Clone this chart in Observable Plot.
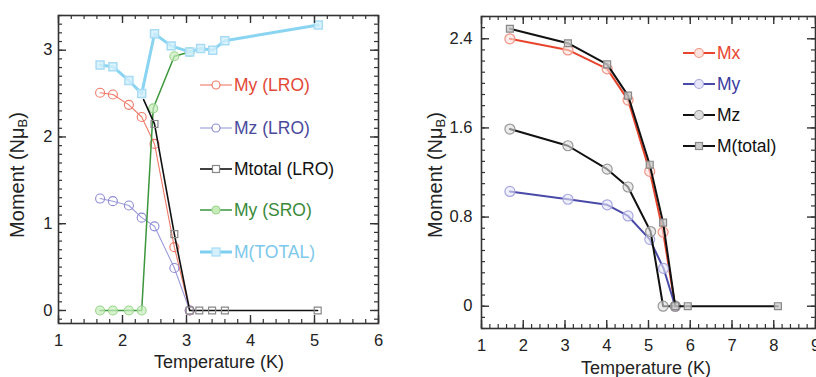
<!DOCTYPE html>
<html>
<head>
<meta charset="utf-8">
<script src="https://cdn.jsdelivr.net/npm/d3@7"></script>
<script src="https://cdn.jsdelivr.net/npm/@observablehq/plot@0.6"></script>
<style>
  html, body { margin: 0; padding: 0; background: #fff; }
  #wrap { display: flex; width: 816px; height: 377px; overflow: hidden; }
  svg { font-family: "Liberation Sans", Arial, Helvetica, sans-serif; }
</style>
</head>
<body>
<div id="wrap"></div>
<script>
// ---------- Left panel data ----------
const myLRO_T = [1.65, 1.85, 2.10, 2.30, 2.50, 2.81, 3.05];
const myLRO_M = [2.51, 2.49, 2.37, 2.23, 1.92, 0.73, 0];
const mzLRO_T = [1.65, 1.85, 2.10, 2.30, 2.50, 2.81, 3.05];
const mzLRO_M = [1.29, 1.26, 1.21, 1.07, 0.97, 0.49, 0];
const mtotLRO_T = [2.33, 2.50, 2.81, 3.05, 3.20, 3.40, 3.60, 5.05];
const mtotLRO_M = [2.43, 2.15, 0.88, 0, 0, 0, 0, 0];
const mySRO_T = [1.65, 1.85, 2.10, 2.30, 2.48, 2.81, 3.05];
const mySRO_M = [0, 0, 0, 0, 2.33, 2.93, 2.98];
const mTOT_T = [1.65, 1.85, 2.10, 2.30, 2.50, 2.76, 3.05, 3.22, 3.41, 3.60, 5.06];
const mTOT_M = [2.83, 2.81, 2.65, 2.50, 3.19, 3.05, 2.98, 3.02, 3.00, 3.11, 3.29];
const leftLegend = ["My (LRO)", "Mz (LRO)", "Mtotal (LRO)", "My (SRO)", "M(TOTAL)"];
const xTicksL = [1, 2, 3, 4, 5, 6];
const yTicksL = [0, 1, 2, 3];

// ---------- Right panel data ----------
const mx_T = [1.68, 3.07, 4.01, 4.51, 5.03, 5.35, 5.64];
const mx_M = [2.40, 2.30, 2.13, 1.85, 1.21, 0.665, 0];
const my_T = [1.68, 3.07, 4.01, 4.51, 5.03, 5.36, 5.64];
const my_M = [1.03, 0.96, 0.91, 0.81, 0.60, 0.34, 0];
const mz_T = [1.68, 3.07, 4.01, 4.51, 5.05, 5.35, 5.64];
const mz_M = [1.59, 1.44, 1.23, 1.07, 0.67, 0, 0];
const mt_T = [1.68, 3.07, 4.01, 4.51, 5.03, 5.35, 5.64, 5.94, 8.10];
const mt_M = [2.49, 2.36, 2.17, 1.89, 1.27, 0.75, 0, 0, 0];
const rightLegend = ["Mx", "My", "Mz", "M(total)"];
const xTicksR = [1, 2, 3, 4, 5, 6, 7, 8, 9];
const yTicksR = [0, 0.8, 1.6, 2.4];

const zip = (T, M) => T.map((t, i) => ({t, m: M[i]}));
const range = (a, b, s) => d3.range(Math.round((b - a) / s) + 1).map(i => +(a + i * s).toFixed(4));

function frameTicks(xMinor, xMajor, yMinor, yMajor, pw, ph, minorLen, majorLen) {
  const c = "#333";
  return [
    Plot.tickX(xMinor, {x: d => d, stroke: c, strokeWidth: 1.2, insetTop: ph - minorLen}),
    Plot.tickX(xMajor, {x: d => d, stroke: c, strokeWidth: 1.4, insetTop: ph - majorLen}),
    Plot.tickX(xMinor, {x: d => d, stroke: c, strokeWidth: 1.2, insetBottom: ph - minorLen}),
    Plot.tickX(xMajor, {x: d => d, stroke: c, strokeWidth: 1.4, insetBottom: ph - majorLen}),
    Plot.tickY(yMinor, {y: d => d, stroke: c, strokeWidth: 1.2, insetRight: pw - minorLen}),
    Plot.tickY(yMajor, {y: d => d, stroke: c, strokeWidth: 1.4, insetRight: pw - majorLen}),
    Plot.tickY(yMinor, {y: d => d, stroke: c, strokeWidth: 1.2, insetLeft: pw - minorLen}),
    Plot.tickY(yMajor, {y: d => d, stroke: c, strokeWidth: 1.4, insetLeft: pw - majorLen}),
    Plot.frame({stroke: c, strokeWidth: 1.6})
  ];
}

function addYLabel(svg, x, y) {
  const t = d3.select(svg).append("text")
    .attr("transform", `translate(${x},${y}) rotate(-90)`)
    .attr("text-anchor", "middle")
    .attr("dominant-baseline", "middle")
    .attr("font-size", 20)
    .attr("fill", "#222");
  t.append("tspan").text("Moment (Nμ");
  t.append("tspan").text("B").attr("font-size", 13).attr("dy", 5);
  t.append("tspan").text(")").attr("dy", -5);
}
function addXLabel(svg, x, y) {
  d3.select(svg).append("text")
    .attr("x", x).attr("y", y)
    .attr("text-anchor", "middle")
    .attr("font-size", 18)
    .attr("fill", "#222")
    .text("Temperature (K)");
}
function addLegend(svg, items, styles, x0, x1, xm, xt, ys, fs) {
  const g = d3.select(svg).append("g");
  items.forEach((name, i) => {
    const s = styles[i], y = ys[i];
    g.append("line").attr("x1", x0).attr("x2", x1).attr("y1", y).attr("y2", y)
      .attr("stroke", s.line).attr("stroke-width", s.lw);
    if (s.sym === "circle") {
      g.append("circle").attr("cx", xm).attr("cy", y).attr("r", s.r)
        .attr("fill", s.fill).attr("stroke", s.ms).attr("stroke-width", 1.2);
    } else {
      g.append("rect").attr("x", xm - s.r).attr("y", y - s.r).attr("width", 2 * s.r).attr("height", 2 * s.r)
        .attr("fill", s.fill).attr("stroke", s.ms).attr("stroke-width", 1.2);
    }
    g.append("text").attr("x", xt).attr("y", y)
      .attr("text-anchor", "start")
      .attr("dominant-baseline", "central")
      .attr("font-size", fs).attr("fill", s.text).text(name);
  });
}

// ---------- Left plot ----------
const L = {w: 420, h: 377, ml: 58, mr: 42, mt: 15, mb: 54};
const stL = [
  {line: "#f07a68", lw: 1.1, ms: "#f07a68", fill: "#fff", sym: "circle", r: 4, text: "#e24a36"},
  {line: "#9c9cdc", lw: 1.1, ms: "#8c8cd4", fill: "#fff", sym: "circle", r: 4, text: "#4a4a9c"},
  {line: "#111", lw: 1.6, ms: "#888", fill: "#fff", sym: "square", r: 3.5, text: "#111"},
  {line: "#3c963c", lw: 1.5, ms: "#9ad48c", fill: "#c6ecba", sym: "circle", r: 4, text: "#3a8a3a"},
  {line: "#7ccff0", lw: 3, ms: "#a8dcf4", fill: "#d4f0fc", sym: "square", r: 4, text: "#7cc8ec"}
];
const leftPlot = Plot.plot({
  width: L.w, height: L.h,
  marginLeft: L.ml, marginRight: L.mr, marginTop: L.mt, marginBottom: L.mb,
  x: {domain: [1, 6]},
  y: {domain: [-0.15, 3.4]},
  style: {fontFamily: '"Liberation Sans", Arial, sans-serif', color: "#222", background: "#fff"},
  marks: [
    Plot.line(zip(myLRO_T, myLRO_M), {x: "t", y: "m", stroke: stL[0].line, strokeWidth: stL[0].lw}),
    Plot.dot(zip(myLRO_T, myLRO_M), {x: "t", y: "m", r: 4.5, stroke: stL[0].ms, fill: "none", strokeWidth: 1.1}),
    Plot.line(zip(mzLRO_T, mzLRO_M), {x: "t", y: "m", stroke: stL[1].line, strokeWidth: stL[1].lw}),
    Plot.dot(zip(mzLRO_T, mzLRO_M), {x: "t", y: "m", r: 4.5, stroke: stL[1].ms, fill: "none", strokeWidth: 1.1}),
    Plot.line(zip(mySRO_T, mySRO_M), {x: "t", y: "m", stroke: stL[3].line, strokeWidth: stL[3].lw}),
    Plot.dot(zip(mySRO_T, mySRO_M), {x: "t", y: "m", r: 4.5, stroke: stL[3].ms, fill: stL[3].fill, fillOpacity: 0.7, strokeWidth: 1.1}),
    Plot.line(zip(mTOT_T, mTOT_M), {x: "t", y: "m", stroke: stL[4].line, strokeWidth: 3, strokeOpacity: 0.9}),
    Plot.dot(zip(mTOT_T, mTOT_M), {x: "t", y: "m", symbol: "square", r: 4.5, stroke: stL[4].ms, fill: stL[4].fill, fillOpacity: 0.8, strokeWidth: 1.5}),
    Plot.line(zip(mtotLRO_T, mtotLRO_M), {x: "t", y: "m", stroke: stL[2].line, strokeWidth: stL[2].lw}),
    Plot.dot(zip(mtotLRO_T, mtotLRO_M).slice(1), {x: "t", y: "m", symbol: "square", r: 3.9, stroke: stL[2].ms, fill: "none", strokeWidth: 1.2}),
    ...frameTicks(range(1, 6, 0.2), xTicksL, range(-0.1, 3.4, 0.1), yTicksL, L.w - L.ml - L.mr, L.h - L.mt - L.mb, 4, 8),
    Plot.axisX(xTicksL, {tickSize: 0, tickPadding: 11, fontSize: 16.5, label: null, fill: "#222", tickFormat: d => String(d)}),
    Plot.axisY(yTicksL, {tickSize: 0, tickPadding: 6, fontSize: 16.5, label: null, fill: "#222", tickFormat: d => String(d)})
  ]
});
addYLabel(leftPlot, 19, 175);
addXLabel(leftPlot, 219, 368);
addLegend(leftPlot, leftLegend, stL, 200, 232, 216, 234, [85, 128, 169, 210, 252], 17.5);

// ---------- Right plot ----------
const R = {w: 396, h: 377, ml: 61, mr: 1, mt: 16, mb: 49};
const stR = [
  {line: "#e8452e", lw: 2, ms: "#f09484", fill: "#fbe2dd", sym: "circle", r: 4.5, text: "#e8452e"},
  {line: "#4a4aa8", lw: 2, ms: "#a8a8e0", fill: "#e6e6f8", sym: "circle", r: 4.5, text: "#3c3ca0"},
  {line: "#111", lw: 2, ms: "#999", fill: "#ddd", sym: "circle", r: 4.5, text: "#111"},
  {line: "#111", lw: 2, ms: "#888", fill: "#ccc", sym: "square", r: 3.5, text: "#111"}
];
const rightPlot = Plot.plot({
  width: R.w, height: R.h,
  marginLeft: R.ml, marginRight: R.mr, marginTop: R.mt, marginBottom: R.mb,
  x: {domain: [1, 9]},
  y: {domain: [-0.2, 2.6]},
  style: {fontFamily: '"Liberation Sans", Arial, sans-serif', color: "#222", background: "#fff"},
  marks: [
    Plot.line(zip(mx_T, mx_M), {x: "t", y: "m", stroke: stR[0].line, strokeWidth: 2}),
    Plot.dot(zip(mx_T, mx_M), {x: "t", y: "m", r: 5, stroke: stR[0].ms, fill: stR[0].fill, fillOpacity: 0.6, strokeWidth: 1.2}),
    Plot.line(zip(my_T, my_M), {x: "t", y: "m", stroke: stR[1].line, strokeWidth: 2}),
    Plot.dot(zip(my_T, my_M), {x: "t", y: "m", r: 5, stroke: stR[1].ms, fill: stR[1].fill, fillOpacity: 0.6, strokeWidth: 1.2}),
    Plot.line(zip(mz_T, mz_M), {x: "t", y: "m", stroke: stR[2].line, strokeWidth: 2}),
    Plot.dot(zip(mz_T, mz_M), {x: "t", y: "m", r: 5, stroke: stR[2].ms, fill: stR[2].fill, fillOpacity: 0.6, strokeWidth: 1.2}),
    Plot.line(zip(mt_T, mt_M), {x: "t", y: "m", stroke: stR[3].line, strokeWidth: 2}),
    Plot.dot(zip(mt_T, mt_M), {x: "t", y: "m", symbol: "square", r: 3.9, stroke: stR[3].ms, fill: stR[3].fill, fillOpacity: 0.8, strokeWidth: 1.2}),
    ...frameTicks(range(1, 9, 0.2), xTicksR, range(-0.2, 2.6, 0.1), yTicksR, R.w - R.ml - R.mr, R.h - R.mt - R.mb, 4, 8),
    Plot.axisX(xTicksR, {tickSize: 0, tickPadding: 11, fontSize: 16.5, label: null, fill: "#222", tickFormat: d => String(d)}),
    Plot.axisY(yTicksR, {tickSize: 0, tickPadding: 9, fontSize: 16.5, label: null, fill: "#222",
      tickFormat: d => d === 0 ? "0" : d.toFixed(1)})
  ]
});
addYLabel(rightPlot, 17, 175);
addXLabel(rightPlot, 226, 374);
addLegend(rightPlot, rightLegend, stR, 263, 295, 279, 297, [53, 84, 115, 146], 17.5);

document.getElementById("wrap").append(leftPlot, rightPlot);
</script>
</body>
</html>
